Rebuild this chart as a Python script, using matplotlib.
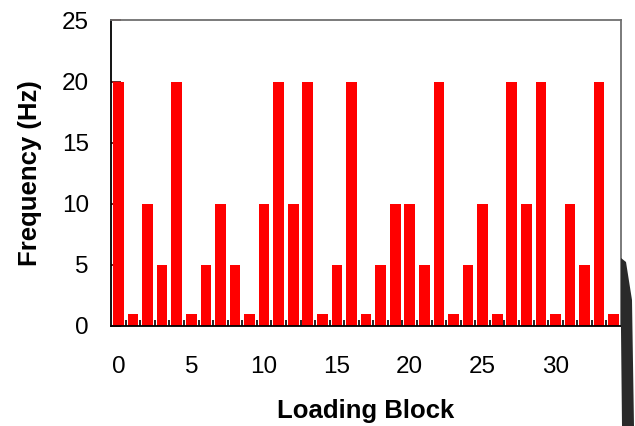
import numpy as np
import matplotlib.pyplot as plt
from matplotlib.patches import Polygon

plt.rcParams['font.family'] = ['Liberation Sans', 'DejaVu Sans']

# Frecuencia de cada bloque de carga
bloques = list(range(35))
frecuencia = [20, 1, 10, 5, 20, 1, 5, 10, 5, 1,
              10, 20, 10, 20, 1, 5, 20, 1, 5, 10,
              10, 5, 20, 1, 5, 10, 1, 20, 10, 20,
              1, 10, 5, 20, 1]
ticks_x = [0, 5, 10, 15, 20, 25, 30]
ticks_y = [0, 5, 10, 15, 20, 25]

fig = plt.figure(figsize=(6.35, 4.26), dpi=100)
ax = fig.add_axes([0.175, 0.235, 0.803, 0.717])

ax.bar(bloques, frecuencia, width=0.73, color='#ff0000', zorder=2)

ax.set_xlim(-0.5, 34.5)
ax.set_ylim(0, 25)

ax.set_xticks(ticks_x)
ax.set_xticklabels([str(t) for t in ticks_x], fontsize=17.5)
ax.set_xticks(np.arange(0.5, 34.5, 1), minor=True)
ax.tick_params(axis='x', which='major', length=0, pad=22)
ax.tick_params(axis='x', which='minor', direction='in', length=4, width=1.2)

ax.set_yticks(ticks_y)
ax.set_yticklabels([str(t) for t in ticks_y], fontsize=17.5)
ax.tick_params(axis='y', direction='in', length=7, width=1.2, pad=16, colors='#600000',
               labelcolor='black')

for lado in ['left', 'bottom']:
    ax.spines[lado].set_color('black')
    ax.spines[lado].set_linewidth(1.3)
for lado in ['top', 'right']:
    ax.spines[lado].set_color('#707070')
    ax.spines[lado].set_linewidth(1.3)

ax.set_xlabel('Loading Block', fontsize=18.5, fontweight='bold', labelpad=15)
ax.set_ylabel('Frequency (Hz)', fontsize=18.5, fontweight='bold', labelpad=14)

# Mancha oscura en la esquina inferior derecha
mancha = Polygon([[621, 258], [626, 262], [632, 300], [634, 426], [622, 426], [621, 330]],
                 closed=True, transform=None, facecolor='#2a2a2a', edgecolor='none')
mancha.set_xy([[x, 426 - y] for x, y in mancha.get_xy()])
fig.patches.append(mancha)

fig.savefig('out.png', dpi=100)
